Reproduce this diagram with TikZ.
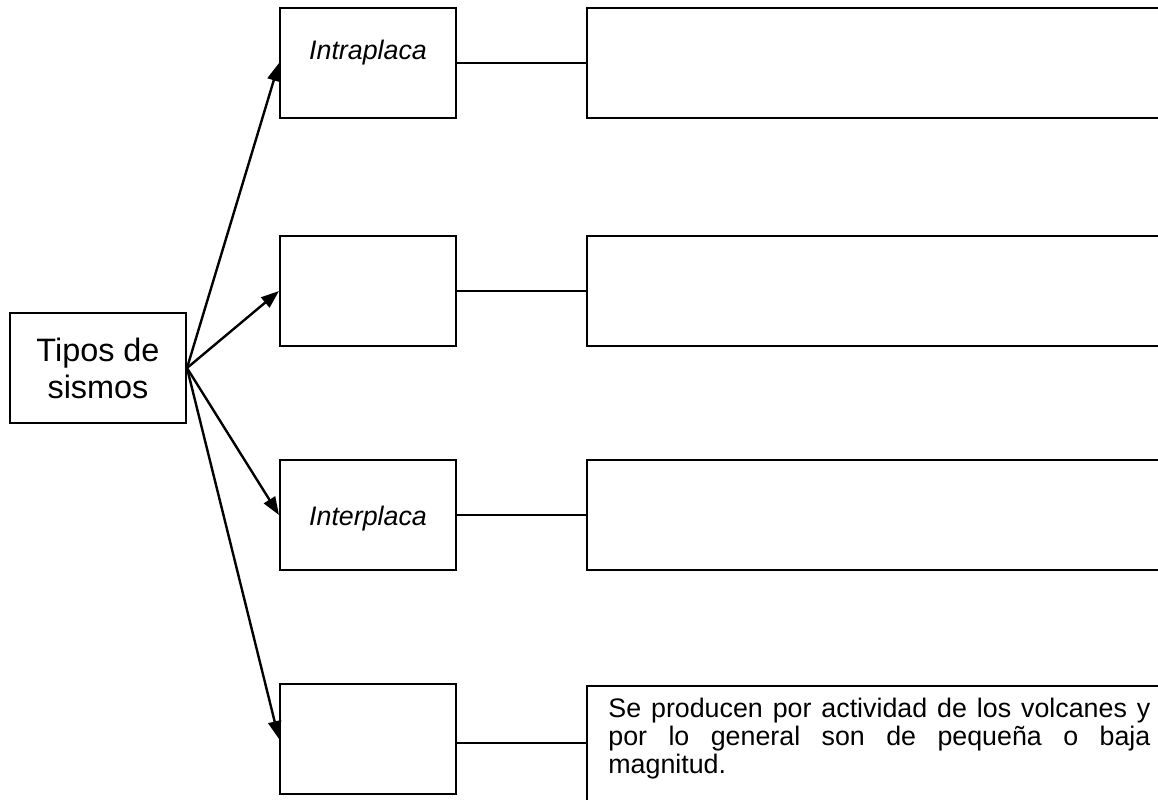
\documentclass[tikz,border=0pt]{standalone}
\usepackage{fontspec}
\setmainfont{Liberation Sans}
\usetikzlibrary{positioning,arrows.meta}
\hyphenpenalty=10000
\tolerance=10000

\tikzset{
  box/.style={draw, line width=1pt, inner sep=0pt, minimum width=88pt, minimum height=55pt},
  rbox/.style={draw, line width=1pt, inner sep=0pt, minimum width=292.5pt, minimum height=55pt},
  link/.style={line width=0.8pt},
  arr/.style={line width=1.2pt, -{Triangle[length=9pt,width=6.5pt]}},
  lbl/.style={font=\fontsize{13.4}{16}\selectfont\itshape, inner sep=0pt},
}

\begin{document}
\begin{tikzpicture}[x=0.5pt,y=-0.5pt]
  \clip (0,0) rectangle (1158,799);

  \node[box, align=center, font=\fontsize{16.2}{18.5}\selectfont] (tipos) at (98,368) {Tipos de\\sismos};

  \node[box] (m1) at (368,63) {};
  \node[box, below=58pt of m1] (m2) {};
  \node[box, below=56pt of m2] (m3) {};
  \node[box, below=56pt of m3] (m4) {};

  \node[lbl] (intra) at ([yshift=5pt]m1.center) {Intraplaca};
  \node[lbl] (inter) at ([yshift=-2pt]m3.center) {Interplaca};

  \node[rbox, right=64.5pt of m1] (r1) {};
  \node[rbox, right=64.5pt of m2] (r2) {};
  \node[rbox, right=64.5pt of m3] (r3) {};
  \node[rbox, minimum height=70pt, right=64.5pt of m4.north east, anchor=north west, yshift=-1pt] (r4) {};

  \node[anchor=north west, inner sep=0pt, text width=271pt, align=justify,
        font=\fontsize{13.4}{13.8}\selectfont]
        (txt) at ([xshift=11pt, yshift=-6.5pt]r4.north west)
        {Se producen por actividad de los volcanes y\linebreak
         por lo general son de peque\~na o baja\linebreak
         magnitud.};

  \draw[arr] (tipos.east) -- (m1.west);
  \draw[arr] (tipos.east) -- (m2.west);
  \draw[arr] (tipos.east) -- (m3.west);
  \draw[arr] (tipos.east) -- (m4.west);

  \draw[link] (m1) -- (r1);
  \draw[link] (m2) -- (r2);
  \draw[link] (m3) -- (r3);
  \draw[link] ([yshift=-2pt]m4.east) -- ([yshift=-2pt]m4.east -| r4.west);
\end{tikzpicture}
\end{document}
